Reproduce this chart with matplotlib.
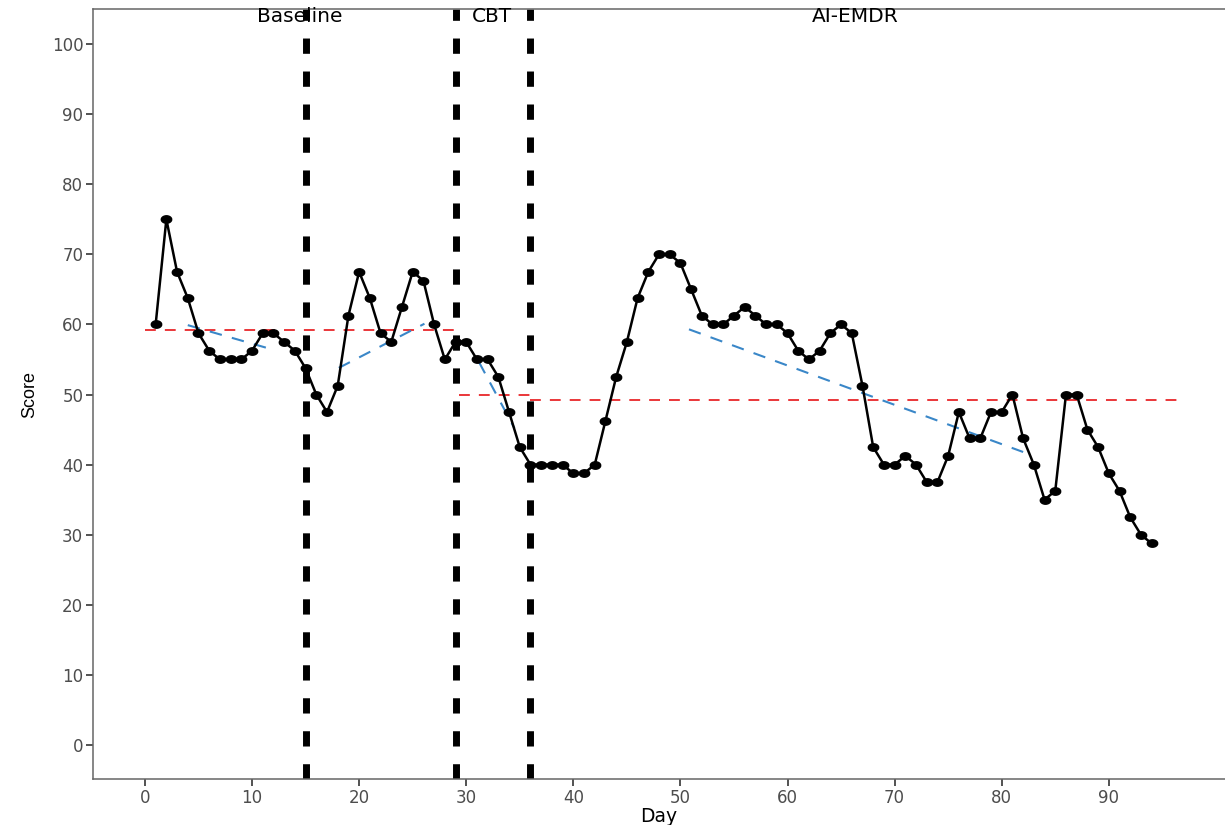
import matplotlib
matplotlib.use("Agg")
import matplotlib.pyplot as plt
import numpy as np

# daily scores
days = list(range(1, 95))
scores = [
    60, 75, 67.5, 63.75, 58.75, 56.25, 55, 55, 55, 56.25,
    58.75, 58.75, 57.5, 56.25, 53.75, 50, 47.5, 51.25, 61.25, 67.5,
    63.75, 58.75, 57.5, 62.5, 67.5, 66.25, 60, 55, 57.5, 57.5,
    55, 55, 52.5, 47.5, 42.5, 40, 40, 40, 40, 38.75,
    38.75, 40, 46.25, 52.5, 57.5, 63.75, 67.5, 70, 70, 68.75,
    65, 61.25, 60, 60, 61.25, 62.5, 61.25, 60, 60, 58.75,
    56.25, 55, 56.25, 58.75, 60, 58.75, 51.25, 42.5, 40, 40,
    41.25, 40, 37.5, 37.5, 41.25, 47.5, 43.75, 43.75, 47.5, 47.5,
    50, 43.75, 40, 35, 36.25, 50, 50, 45, 42.5, 38.75,
    36.25, 32.5, 30, 28.75,
]

# phase changes and labels
phase_breaks = [15, 29, 36]
phase_names = ["Baseline", "CBT", "AI-EMDR"]
phase_label_x = [14.5, 32.4, 66.3]

# phase mean lines (start day, end day, level)
mean_start = [0, 29.3, 36]
mean_end = [29, 36, 96.7]
mean_level = [59.2, 50.0, 49.2]

# trend lines (start day, end day, start value, end value)
trend_x0 = [4.0, 18.1, 31.2, 50.8]
trend_x1 = [11.5, 26.1, 34.5, 82.0]
trend_y0 = [59.9, 53.8, 54.6, 59.3]
trend_y1 = [56.6, 60.1, 45.2, 41.8]

plt.rcParams["font.family"] = ["DejaVu Sans"]

# the picture is a bit wide, so points come out as flat ellipses
t = np.linspace(0, 2 * np.pi, 40)
flat_dot = np.column_stack([1.4 * np.cos(t), np.sin(t)])

fig = plt.figure(figsize=(12.25, 8.25), dpi=100)
ax = fig.add_axes([93 / 1225, 46 / 825, 1 - 93 / 1225, 770 / 825])

for x in phase_breaks:
    ax.axvline(x, color="black", lw=5, linestyle=(0, (2.2, 2.55)), zorder=2)

for xs, xe, lv in zip(mean_start, mean_end, mean_level):
    ax.plot([xs, xe], [lv, lv], color="#E8262A", lw=1.3,
            linestyle=(0, (6, 5)), zorder=3)

for x0, x1, y0, y1 in zip(trend_x0, trend_x1, trend_y0, trend_y1):
    ax.plot([x0, x1], [y0, y1], color="#3A87C8", lw=1.5,
            linestyle=(0, (6, 5)), zorder=3)

ax.plot(days, scores, color="black", lw=1.8, marker=flat_dot, markersize=7.5, zorder=4)

for name, x in zip(phase_names, phase_label_x):
    ax.text(x, 103.9, name, ha="center", va="center", fontsize=14.5, color="black")

ax.set_xlim(-4.85, 100.85)
ax.set_ylim(-4.85, 105)
ax.set_xticks(range(0, 100, 10))
ax.set_yticks(range(0, 101, 10))

for side in ["left", "bottom", "top"]:
    ax.spines[side].set_color("#666666")
    ax.spines[side].set_linewidth(1.1)
ax.spines["right"].set_visible(False)
ax.tick_params(colors="#444444", labelsize=12, length=5, width=1.3,
               labelcolor="#4D4D4D", pad=2)

ax.set_xlabel("Day", fontsize=13.5, labelpad=0)
ax.set_ylabel("Score", fontsize=13, labelpad=10,
              family=["Liberation Sans", "DejaVu Sans"])

fig.savefig("out.png", dpi=100)
